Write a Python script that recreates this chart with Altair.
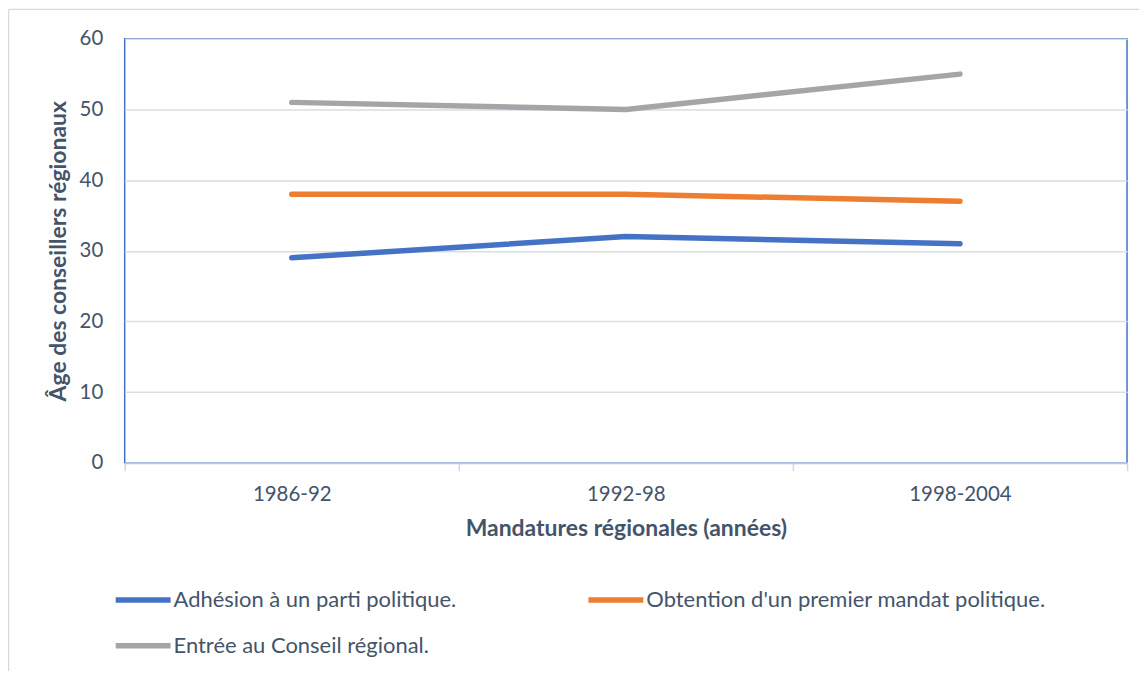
import altair as alt
import pandas as pd

periods = ["1986-92", "1992-98", "1998-2004"]
series_keys = ["s1", "s2", "s3"]
series_names = [
    "Adhésion à un parti politique.",
    "Obtention d'un premier mandat politique.",
    "Entrée au Conseil régional.",
]
adhesion = [29, 32, 31]
obtention = [38, 38, 37]
entree = [51, 50, 55]
colors = ["#4472C4", "#ED7D31", "#A5A5A5"]

rows = []
for key, vals in zip(series_keys, [adhesion, obtention, entree]):
    for p, v in zip(periods, vals):
        rows.append({"period": p, "series": key, "age": v})
df = pd.DataFrame(rows)

label_expr = " : ".join(
    f"datum.label == '{k}' ? \"{n}\"" for k, n in zip(series_keys[:-1], series_names[:-1])
) + f" : \"{series_names[-1]}\""

# the legend grid fills column by column: order so rows read s1, s2 / s3
legend_order = [0, 2, 1]
domain_keys = [series_keys[i] for i in legend_order]
domain_colors = [colors[i] for i in legend_order]

FONT = "Lato"
TXT = "#44546A"
W, H = 1005, 425

lines = alt.Chart(df).mark_line(strokeWidth=5.5, strokeCap="round", strokeJoin="round").encode(
    x=alt.X(
        "period:N",
        sort=periods,
        bandPosition=0.5,
        scale=alt.Scale(type="band", paddingInner=0, paddingOuter=0),
        axis=alt.Axis(
            title="Mandatures régionales (années)",
            labelAngle=0,
            tickBand="extent",
            grid=False,
            domainColor="#B4C7E7",
            domainWidth=2,
            tickColor="#D0D7E5",
            tickWidth=1.5,
            tickSize=8,
            labelPadding=14,
            titlePadding=13,
        ),
    ),
    y=alt.Y(
        "age:Q",
        scale=alt.Scale(domain=[0, 60]),
        axis=alt.Axis(
            title="Âge des conseillers régionaux",
            values=[0, 10, 20, 30, 40, 50, 60],
            domain=False,
            ticks=False,
            gridColor="#D9DEE6",
            gridWidth=1.5,
            labelPadding=22,
            titlePadding=9,
        ),
    ),
    color=alt.Color(
        "series:N",
        scale=alt.Scale(domain=domain_keys, range=domain_colors),
        legend=alt.Legend(
            title=None,
            orient="none",
            legendX=-12,
            legendY=532,
            columns=2,
            gridAlign="each",
            columnPadding=121,
            rowPadding=4,
            labelExpr=label_expr,
            symbolType="stroke",
            symbolSize=3025,
            symbolStrokeWidth=5.5,
            labelOffset=0,
            labelLimit=600,
        ),
    ),
)

border = alt.Chart(alt.Data(values=[{}])).mark_rule(color="#D9D9D9", strokeWidth=1.5).encode(
    x=alt.value(-116.5), x2=alt.value(1020), y=alt.value(-29.5)
)
border2 = alt.Chart(alt.Data(values=[{}])).mark_rule(color="#D9D9D9", strokeWidth=1.5).encode(
    x=alt.value(-116.5), y=alt.value(-29.5), y2=alt.value(660)
)

chart = (
    alt.layer(border, border2, lines)
    .properties(
        width=W,
        height=H,
        padding={"left": 117, "top": 30, "right": 12, "bottom": 208},
        autosize=alt.AutoSizeParams(type="none"),
    )
    .configure_view(stroke="#4472C4", strokeWidth=1.5)
    .configure_axis(
        labelFont=FONT,
        titleFont=FONT,
        labelFontSize=20.5,
        titleFontSize=23,
        labelColor=TXT,
        titleColor=TXT,
        titleFontWeight="bold",
    )
    .configure_legend(labelFont=FONT, labelFontSize=22, labelColor=TXT)
)

chart.save("out.html", embed_options={"renderer": "svg", "actions": False})
